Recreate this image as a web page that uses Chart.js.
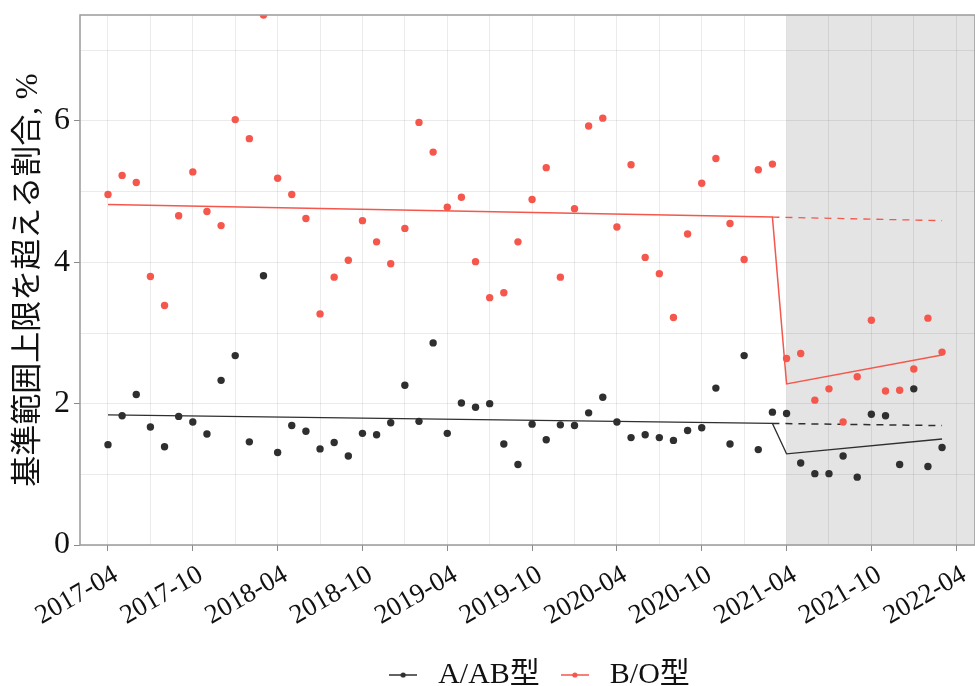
<!DOCTYPE html>
<html>
<head>
<meta charset="utf-8">
<script src="https://cdn.jsdelivr.net/npm/chart.js@4"></script>
<style>
  html, body { margin: 0; padding: 0; background: #fff; }
  #wrap { width: 975px; height: 686px; }
</style>
</head>
<body>
<div id="wrap"><canvas id="chart"></canvas></div>
<script>
// monthly values, 2017-04 .. 2022-03 (month index 0..59)
const aabValues = [
  1.42, 1.83, 2.13, 1.67, 1.39, 1.82, 1.74, 1.57, 2.33, 2.68, 1.46, 3.81,
  1.31, 1.69, 1.61, 1.36, 1.45, 1.26, 1.58, 1.56, 1.73, 2.26, 1.75, 2.86,
  1.58, 2.01, 1.95, 2.00, 1.43, 1.14, 1.71, 1.49, 1.70, 1.69, 1.87, 2.09,
  1.74, 1.52, 1.56, 1.52, 1.48, 1.62, 1.66, 2.22, 1.43, 2.68, 1.35, 1.88,
  1.86, 1.16, 1.01, 1.01, 1.26, 0.96, 1.85, 1.83, 1.14, 2.21, 1.11, 1.38
];
const boValues = [
  4.96, 5.23, 5.13, 3.80, 3.39, 4.66, 5.28, 4.72, 4.52, 6.02, 5.75, 7.50,
  5.19, 4.96, 4.62, 3.27, 3.79, 4.03, 4.59, 4.29, 3.98, 4.48, 5.98, 5.56,
  4.78, 4.92, 4.01, 3.50, 3.57, 4.29, 4.89, 5.34, 3.79, 4.76, 5.93, 6.04,
  4.50, 5.38, 4.07, 3.84, 3.22, 4.40, 5.12, 5.47, 4.55, 4.04, 5.31, 5.39,
  2.64, 2.71, 2.05, 2.21, 1.74, 2.38, 3.18, 2.18, 2.19, 2.49, 3.21, 2.73
];

// fitted trend (pre period end points, then post period end points)
const fitMonths = [0, 47, 48, 59];
const aabFit = [1.84, 1.72, 1.29, 1.50];
const boFit = [4.82, 4.64, 2.28, 2.69];
// counterfactual (dashed)
const cfMonths = [47, 59];
const aabCf = [1.72, 1.69];
const boCf = [4.64, 4.59];

const tickLabels = ['2017-04', '2017-10', '2018-04', '2018-10', '2019-04', '2019-10',
  '2020-04', '2020-10', '2021-04', '2021-10', '2022-04'];
const interventionMonth = 48;

const dark = '#2f2f2f';
const red = '#F5574C';
const serif = "'Liberation Serif', 'Times New Roman', serif";

function pts(xs, ys) { return ys.map((y, i) => ({ x: xs[i], y: y })); }
const allMonths = aabValues.map((_, i) => i);

function legendIcon(color) {
  const c = document.createElement('canvas');
  c.width = 28; c.height = 8;
  const g = c.getContext('2d');
  g.strokeStyle = color; g.lineWidth = 1.5;
  g.beginPath(); g.moveTo(0, 4); g.lineTo(28, 4); g.stroke();
  g.fillStyle = color;
  g.beginPath(); g.arc(14, 4, 2.6, 0, Math.PI * 2); g.fill();
  return c;
}
const icons = [legendIcon(dark), legendIcon(red)];

const panel = {
  id: 'panel',
  beforeDraw(chart) {
    const { ctx, chartArea: a, scales: { x } } = chart;
    ctx.save();
    ctx.fillStyle = '#fff';
    ctx.fillRect(0, 0, chart.width, chart.height);
    const x0 = x.getPixelForValue(interventionMonth);
    ctx.fillStyle = '#E4E4E4';
    ctx.fillRect(x0, a.top, a.right - x0, a.bottom - a.top);
    ctx.restore();
    if (chart.legend) { chart.legend.left += 49; chart.legend.right += 49; }
  },
  afterDraw(chart) {
    const { ctx, chartArea: a } = chart;
    ctx.save();
    ctx.strokeStyle = '#9a9a9a';
    ctx.lineWidth = 1.5;
    ctx.strokeRect(a.left, a.top, a.right - a.left, a.bottom - a.top);
    ctx.restore();
  }
};

new Chart(document.getElementById('chart'), {
  type: 'scatter',
  data: {
    datasets: [
      { label: 'A/AB型', data: pts(allMonths, aabValues), backgroundColor: dark, borderColor: dark,
        pointRadius: 3.7, pointBorderWidth: 0, order: 1 },
      { label: 'B/O型', data: pts(allMonths, boValues), backgroundColor: red, borderColor: red,
        pointRadius: 3.7, pointBorderWidth: 0, order: 1 },
      { label: 'aab fit', data: pts(fitMonths, aabFit), showLine: true, borderColor: dark,
        borderWidth: 1.3, pointRadius: 0, order: 2 },
      { label: 'bo fit', data: pts(fitMonths, boFit), showLine: true, borderColor: red,
        borderWidth: 1.5, pointRadius: 0, order: 2 },
      { label: 'aab cf', data: pts(cfMonths, aabCf), showLine: true, borderColor: dark,
        borderWidth: 1.5, borderDash: [7, 6], pointRadius: 0, order: 2 },
      { label: 'bo cf', data: pts(cfMonths, boCf), showLine: true, borderColor: red,
        borderWidth: 1.3, borderDash: [7, 6], pointRadius: 0, order: 2 }
    ]
  },
  options: {
    responsive: true,
    maintainAspectRatio: false,
    animation: false,
    layout: { autoPadding: false, padding: { top: 15, right: 0, left: 0, bottom: -14 } },
    scales: {
      x: {
        type: 'linear',
        min: -1.98,
        max: 61.33,
        afterBuildTicks(s) {
          s.ticks = [];
          for (let m = 0; m <= 60; m += 3) s.ticks.push({ value: m });
        },
        afterFit(s) { s.height = 100; s.paddingLeft = 0; s.paddingRight = 0; },
        grid: {
          color: 'rgba(0,0,0,0.08)',
          lineWidth: 1,
          tickLength: 6,
          tickColor: (c) => (c.tick && c.tick.value % 6 === 0) ? '#8a8a8a' : 'rgba(0,0,0,0)'
        },
        border: { display: false },
        ticks: {
          autoSkip: false,
          maxRotation: 30,
          minRotation: 30,
          padding: 8,
          labelOffset: 8,
          color: '#111',
          font: { family: serif, size: 27 },
          callback: (v) => v % 6 === 0 ? tickLabels[v / 6] : ''
        }
      },
      y: {
        min: 0,
        max: 7.5,
        afterBuildTicks(s) {
          s.ticks = [];
          for (let v = 0; v <= 7; v++) s.ticks.push({ value: v });
        },
        afterFit(s) { s.width = 80; s.paddingTop = 0; s.paddingBottom = 0; },
        grid: {
          color: 'rgba(0,0,0,0.08)',
          lineWidth: 1,
          tickLength: 6,
          tickColor: (c) => (c.tick && c.tick.value % 2 === 0) ? '#8a8a8a' : 'rgba(0,0,0,0)'
        },
        border: { display: false },
        ticks: {
          padding: 4,
          color: '#111',
          font: { family: serif, size: 32 },
          callback: (v) => v % 2 === 0 ? String(v) : ''
        },
        title: {
          display: true,
          text: '基準範囲上限を超える割合, %',
          color: '#111',
          padding: { top: 10, bottom: 0 },
          font: { family: "'Liberation Serif', 'Noto Sans CJK JP', serif", size: 31 }
        }
      }
    },
    plugins: {
      tooltip: { enabled: false },
      legend: {
        position: 'bottom',
        labels: {
          usePointStyle: true,
          pointStyleWidth: 40,
          padding: 15,
          color: '#111',
          font: { family: "'Liberation Serif', 'Noto Sans CJK JP', serif", size: 30 },
          generateLabels(chart) {
            const items = Chart.defaults.plugins.legend.labels.generateLabels(chart)
              .filter(it => it.datasetIndex < 2);
            items.forEach(it => { it.pointStyle = icons[it.datasetIndex]; });
            return items;
          }
        }
      }
    }
  },
  plugins: [panel]
});
</script>
</body>
</html>
